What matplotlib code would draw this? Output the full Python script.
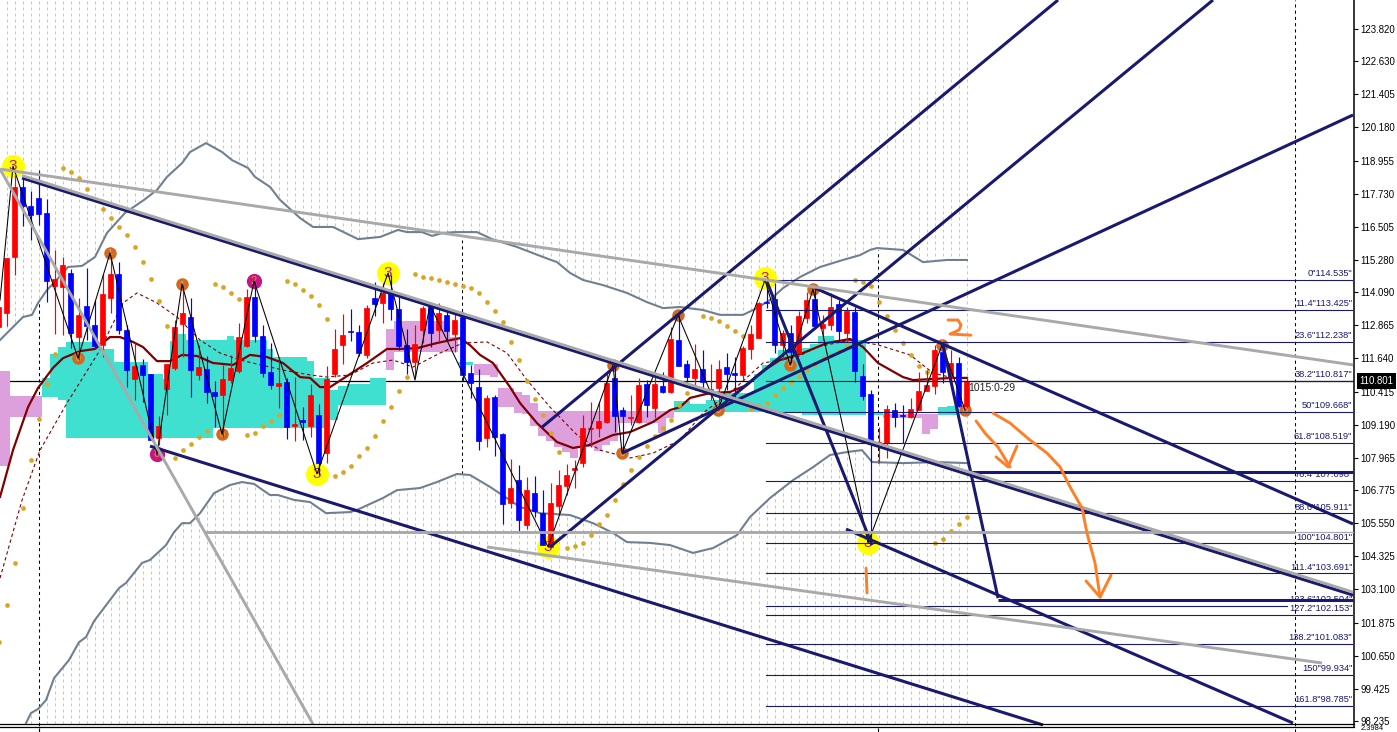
import numpy as np
import matplotlib
matplotlib.use("Agg")
import matplotlib.pyplot as plt

# ---------- candles (bar number is the list position) ----------
opens = [112.81,113.33,115.40,117.99,117.27,117.58,117.03,114.32,114.29,114.80,112.43,113.58,112.87,112.14,113.87,114.76,112.69,110.88,111.40,111.06,108.70,110.51,111.29,112.91,113.17,111.03,111.25,110.40,110.29,110.84,111.17,112.10,113.91,112.47,111.14,110.62,110.77,109.14,109.36,109.14,109.55,108.14,
 111.06,112.14,112.65,112.62,111.77,113.87,113.69,114.06,113.47,112.14,111.51,112.69,113.58,112.69,113.24,112.54,113.17,111.10,110.58,108.70,110.21,108.85,106.30,107.15,105.48,106.67,105.92,104.66,106.18,106.92,107.52,107.77,109.03,109.07,109.29,110.92,109.73,109.44,109.29,110.69,109.81,110.62,110.40,
 112.32,111.43,110.92,111.25,110.44,110.55,111.32,111.10,111.03,111.99,112.39,113.73,113.84,112.14,112.58,111.84,113.13,113.84,112.76,112.88,113.65,112.58,113.36,110.99,110.32,108.48,108.52,109.73,109.55,109.47,109.73,110.44,110.62,111.88,110.92,111.47,109.88]
highs = [113.55,115.34,118.42,118.30,117.83,118.61,117.52,115.65,115.38,114.95,113.86,114.98,113.80,114.76,115.40,115.19,112.87,112.20,111.61,111.06,109.51,111.43,113.06,114.35,113.86,112.14,111.73,110.80,111.40,111.77,112.94,114.19,114.48,112.87,112.20,111.70,110.90,110.97,109.86,110.69,109.96,111.36,
 112.73,113.28,113.47,112.88,113.61,114.45,114.42,114.72,113.92,112.73,112.88,113.58,113.74,113.68,113.43,113.28,113.37,111.40,111.25,110.29,110.27,108.88,107.92,107.70,107.27,107.29,106.78,107.02,107.52,107.74,107.88,109.55,110.04,110.02,111.09,111.40,109.83,110.29,110.90,110.84,110.97,111.13,112.79,
 113.24,111.58,112.17,111.95,111.43,111.58,111.83,111.70,112.10,112.88,113.74,114.54,114.42,112.69,112.88,113.39,114.11,114.23,113.24,114.05,113.80,113.55,113.55,111.43,110.47,109.12,109.92,109.98,109.92,110.17,111.15,111.21,112.14,112.14,111.95,111.68,110.97]
lows = [112.81,112.84,114.72,116.54,116.02,116.56,113.74,112.54,112.51,112.02,111.58,112.32,112.07,111.68,113.31,112.54,110.60,110.10,110.03,108.62,108.44,109.55,111.21,111.70,110.23,110.84,109.98,109.12,108.74,110.72,111.11,112.07,112.24,110.97,110.51,109.79,108.66,108.60,108.62,108.74,107.33,107.76,
 110.97,111.43,112.28,111.73,111.64,113.21,112.94,113.06,111.95,111.06,110.97,112.20,112.07,112.30,112.30,111.89,110.82,110.19,108.25,108.38,108.03,105.52,106.10,105.22,105.32,105.79,104.74,104.62,105.85,106.59,106.84,107.64,108.38,108.75,109.24,108.93,108.13,109.18,109.24,109.49,109.42,110.35,110.35,
 111.36,110.66,110.47,110.41,110.10,109.73,110.47,110.10,110.84,111.62,112.39,113.49,111.83,111.58,111.46,111.83,112.94,112.81,112.32,112.69,112.26,112.26,110.78,110.10,104.93,107.76,107.95,109.12,108.50,109.45,109.73,110.44,110.32,110.72,110.72,109.86,109.79]
closes = [113.55,115.34,117.99,117.27,116.95,116.98,114.51,114.56,115.09,112.58,113.24,112.84,112.10,114.02,114.76,112.69,111.21,111.36,111.03,108.62,109.14,111.43,112.80,113.32,111.21,111.32,110.40,110.25,110.88,111.29,112.43,113.91,112.47,111.10,110.66,110.73,109.10,109.22,109.29,110.29,107.76,110.88,
 111.99,112.51,112.62,111.84,113.50,113.65,114.06,113.47,112.10,111.51,112.17,113.50,112.58,113.32,112.65,113.06,111.03,110.73,108.59,110.18,108.73,106.26,106.85,105.67,106.78,106.00,104.74,106.30,106.96,107.33,107.59,109.07,109.07,109.33,110.73,109.51,109.51,109.47,110.66,109.92,110.69,110.40,112.36,
 111.36,110.95,111.25,110.77,110.51,111.25,111.06,111.03,112.03,112.54,113.69,113.69,112.14,112.58,111.88,113.21,113.80,112.84,112.91,113.54,112.65,113.39,111.17,110.25,108.48,108.55,109.77,109.47,109.51,109.77,110.44,110.66,111.95,111.14,111.47,109.88,110.80]

# ---------- Bollinger bands ----------
upper_x = [0.17,1.79,3.04,4.17,4.92,6.04,7.04,8.67,10.42,12.04,13.54,15.79,18.17,19.79,21.04,22.92,23.92,25.92,27.92,29.17,31.17,32.04,33.92,35.17,37.67,39.29,41.79,44.92,47.67,49.92,51.04,52.92,54.17,55.54,57.04,59.79,61.67,64.79,68.04,69.79,71.42,73.04,75.54,78.54,81.04,83.04,85.17,88.04,90.17,93.04,94.79,96.42,98.04,100.17,102.67,105.54,107.67,108.92,109.79,113.04,115.54,118.54,121.04]
upper_y = [112.32,112.80,113.17,113.25,113.69,114.17,114.47,115.02,115.06,115.39,116.28,117.02,117.50,117.87,118.35,118.86,119.27,119.60,119.27,118.97,118.68,118.35,117.98,117.50,116.83,116.50,116.50,116.05,116.13,116.39,116.31,116.31,116.17,116.28,116.31,116.31,116.05,115.76,115.39,115.20,114.80,114.54,114.35,114.06,113.72,113.50,113.54,113.43,113.25,113.25,113.50,113.80,114.24,114.65,115.02,115.28,115.46,115.65,115.72,115.65,115.20,115.28,115.28]
lower_x = [3.42,4.04,4.92,5.92,6.92,8.79,10.04,10.92,11.92,13.92,15.04,15.92,17.92,18.92,20.92,21.92,22.92,23.92,25.17,26.92,28.92,30.42,31.92,33.92,34.92,36.92,38.92,40.92,43.92,44.79,48.04,49.79,52.67,54.79,57.29,58.92,61.42,65.17,67.67,71.42,74.29,76.79,78.54,81.42,83.92,86.79,89.29,92.29,93.92,96.42,99.29,101.79,103.92,106.04,107.92,109.17,113.04,117.29,121.04]
lower_y = [98.16,98.53,98.68,99.01,99.82,100.49,101.15,101.34,101.93,102.71,103.15,103.34,104.08,104.19,104.74,105.22,105.55,105.55,105.92,106.66,106.96,107.07,107.00,106.59,106.59,106.41,106.33,105.92,105.96,106.04,106.48,106.77,106.85,107.07,107.37,107.33,106.89,106.15,105.92,105.85,105.55,105.19,104.85,104.82,104.74,104.45,104.63,105.11,105.78,106.48,107.14,107.62,108.07,108.18,108.25,107.81,107.77,107.81,107.77]

# ---------- moving averages ----------
ma_x = [0.17,1.79,3.67,4.92,6.79,8.04,10.17,12.04,13.92,15.17,16.79,18.04,19.79,21.42,22.92,24.79,26.79,29.29,31.42,33.54,35.54,37.67,38.92,40.17,41.42,43.92,46.04,48.54,50.17,52.29,54.79,57.67,58.92,60.17,61.79,63.92,65.17,67.29,69.79,71.79,73.92,76.79,78.92,81.79,83.92,85.17,86.42,88.92,91.42,93.54,95.17,97.67,100.54,103.54,106.42,108.04,109.92,113.04,114.29,119.29,121.04]
ma_y = [106.52,108.25,109.84,110.55,111.29,111.65,111.91,111.99,112.43,112.43,112.25,112.06,111.54,111.54,111.77,111.73,111.47,111.40,111.77,111.69,111.47,110.95,110.92,110.58,110.58,111.06,111.47,111.99,111.99,112.02,112.21,112.39,112.13,111.77,111.47,110.58,109.99,109.25,108.55,108.33,108.44,108.81,108.92,109.29,109.73,109.84,110.18,110.36,110.40,110.66,111.10,111.58,111.84,112.21,112.36,112.06,111.47,110.95,110.84,110.92,110.92]
slow_x = [0.17,2.92,5.17,8.54,12.67,15.54,17.29,19.79,22.29,25.17,27.67,30.17,35.54,38.92,41.04,43.92,46.79,49.29,51.79,55.17,58.04,61.04,63.54,66.04,68.92,72.29,75.17,78.92,81.79,85.17,88.04,91.79,95.54,99.79,102.29,106.42,109.92,113.92,116.79,119.29]
slow_y = [103.52,106.40,108.25,109.99,111.95,113.69,114.06,113.69,113.17,112.32,111.84,111.58,111.21,111.03,110.95,111.03,111.47,111.58,111.32,111.84,112.21,112.25,111.84,110.84,109.84,108.81,108.25,107.96,108.14,108.62,109.62,110.47,111.47,111.69,112.06,112.32,112.14,111.77,111.10,110.92]

# ---------- parabolic SAR ----------
sar_bars = [0,1,2,3,4,5,6,7,8,9,10,11,13,14,15,16,17,18,19,20,21,22,23,24,25,26,27,28,29,30,31,32,33,34,35,36,37,38,39,40,41,
 42,43,44,45,46,47,48,49,50,51,52,53,54,55,56,57,58,59,60,61,62,63,64,65,66,67,68,69,70,71,72,73,74,75,76,77,78,79,80,81,82,83,84,85,86,
 88,89,90,91,92,93,94,95,96,97,98,99,100,101,102,103,104,105,106,107,108,109,110,111,112,113,114,115,116,117,118,119,120,121]
sar_vals = [101.16,102.52,104.07,106.11,107.90,109.40,110.69,111.80,118.68,118.53,118.31,117.90,117.16,116.83,116.50,116.20,115.76,115.20,114.58,113.76,112.84,107.96,108.25,108.48,108.73,108.96,114.39,114.28,114.06,113.84,108.81,108.88,109.14,109.33,109.55,114.50,114.39,114.17,113.95,113.62,113.10,
 107.29,107.44,107.66,108.03,108.33,108.77,109.33,109.84,110.43,110.95,114.76,114.65,114.61,114.54,114.46,114.39,114.32,114.24,114.06,113.72,113.39,112.99,112.25,111.58,110.80,110.14,109.55,108.88,108.18,104.63,104.70,104.82,105.11,105.52,105.85,106.41,107.00,107.51,107.99,108.40,108.77,109.07,109.36,109.92,110.36,
 113.21,113.13,113.02,112.84,112.65,112.47,109.77,109.88,109.99,110.29,110.55,110.77,110.99,111.21,111.43,111.65,111.77,111.91,112.10,114.54,114.46,114.32,113.72,113.21,112.69,112.21,111.77,111.36,111.14,104.82,104.96,105.26,105.52,105.78]

# ---------- cloud blocks ----------
teal_start = [5.42,6.42,7.42,8.42,12.67,14.42,18.67,20.54,21.42,22.42,23.42,26.79,28.54,29.42,33.54,34.29,38.54,39.42,41.42,42.42,43.54,46.42,57.42,84.42,86.42,88.42,90.54,93.42,94.42,95.42,96.42,97.42,100.42,101.42,102.42,104.42,109.29,117.42,118.54]
teal_end   = [6.42,7.42,8.42,12.67,14.42,18.67,20.54,21.42,22.42,23.42,26.79,28.54,29.42,33.54,34.29,38.54,39.42,41.42,42.42,43.54,46.42,48.42,59.29,86.42,88.42,90.54,93.42,94.42,95.42,96.42,97.42,100.42,101.42,102.42,104.42,108.42,110.54,118.54,120.04]
teal_top   = [110.92,111.80,112.06,112.25,111.99,111.51,111.06,110.88,112.28,112.54,112.32,112.32,112.47,112.32,111.99,111.69,111.54,110.92,110.48,110.62,110.69,110.92,111.51,110.07,109.96,110.10,110.36,110.36,111.06,111.40,111.65,111.95,112.02,112.17,112.47,112.32,109.62,109.84,109.88]
teal_low   = [110.21,110.21,110.10,108.70,108.70,108.70,108.70,108.70,108.70,108.70,108.70,109.07,109.07,109.07,109.07,109.07,109.07,109.07,109.36,109.92,109.92,109.92,111.40,109.66,109.66,109.66,109.66,109.66,109.66,109.66,109.66,109.66,109.55,109.55,109.55,109.55,109.55,109.55,109.55]
plum_start = [-0.5,1.42,48.42,49.42,56.42,59.42,61.42,62.42,64.42,65.42,66.42,67.42,68.42,69.42,70.42,71.42,72.42,74.42,75.42,76.42,77.42,82.42,83.42,110.54,115.42,116.42]
plum_end   = [1.42,5.42,49.42,56.42,57.42,61.42,62.42,64.42,65.42,66.42,67.42,68.42,69.42,70.42,71.42,72.42,74.42,75.42,76.42,77.42,82.42,83.42,84.42,115.42,116.42,117.42]
plum_top   = [111.17,110.25,112.73,113.02,112.43,111.43,111.43,110.55,110.40,110.29,110.00,109.70,109.70,109.70,109.70,109.70,109.70,109.70,109.70,109.70,109.70,109.70,109.70,109.59,109.59,109.59]
plum_low   = [107.66,109.47,111.21,111.88,111.88,111.03,110.95,109.84,109.62,109.59,109.14,108.77,108.59,108.36,108.18,107.96,108.36,108.22,108.44,108.59,109.25,108.88,109.44,109.44,108.85,109.03]

# ---------- zigzag and swing markers ----------
zig_x = [0.17,1.79,9.92,13.92,19.79,22.92,27.92,31.92,39.79,48.67,52.04,53.92,57.92,68.67,76.79,77.92,84.92,89.92,95.79,98.92,101.79,108.67,117.92,120.79]
zig_y = [113.80,118.75,111.65,115.54,108.11,114.39,108.84,114.50,107.37,114.80,110.84,113.62,111.14,104.67,111.40,108.14,113.24,109.73,114.54,111.40,114.21,104.82,112.14,109.73]
yellow_x = [1.79,39.79,48.67,95.79,68.67,108.67]
yellow_y = [118.75,107.37,114.80,114.61,104.67,104.82]
magenta_x = [19.79,31.92]
magenta_y = [108.11,114.50]
magenta_txt = ["8","2"]
orange_x = [9.92,13.92,22.92,27.92,76.79,77.92,84.92,89.92,98.92,101.79,117.92,120.79]
orange_y = [111.65,115.54,114.39,108.84,111.40,108.14,113.24,109.73,111.40,114.21,112.14,109.73]
orange_txt = ["0","1","1","0","1","0","1","0","0","1","1","0"]

# ---------- trend lines: x1, price1, x2, price2 ----------
navy_lines = [(2.92,118.31,169.30,102.89),(18.92,108.40,130.54,98.09),(67.92,109.10,132.42,124.89),
              (68.92,104.67,151.79,124.89),(77.92,108.14,169.29,120.64),(96.04,114.47,109.17,104.74),
              (102.04,114.24,169.29,105.52),(105.92,105.33,161.79,98.16),(118.04,112.14,124.92,102.78),
              (124.92,102.71,169.29,102.71),(121.42,107.44,169.29,107.44)]
gray_lines = [(0.17,118.64,169.29,111.40),(0.17,118.64,39.29,98.12),(2.92,118.40,169.29,103.00),
              (25.79,105.22,162.04,105.22),(61.04,104.67,165.42,100.38)]

# ---------- Fibonacci levels ----------
fib_pct = ["0","11.4","23.6","38.2","50","61.8","76.4","88.6","100","111.4","123.6","127.2","138.2","150","161.8"]
fib_price = [114.535,113.425,112.238,110.817,109.668,108.519,107.098,105.911,104.801,103.691,102.504,102.153,101.083,99.934,98.785]
fib_end = [169.2,169.2,169.2,169.2,169.2,169.2,169.2,169.2,169.2,169.2,161.0,169.2,169.2,169.2,169.2]

# ---------- freehand orange marks ----------
two_x = [118.67,119.92,120.29,120.04,118.92,121.54]
two_y = [113.06,113.06,112.87,112.69,112.54,112.50]
one_x = [108.42,108.54]
one_y = [103.89,102.97]
arrow1_x = [122.17,123.29,124.92,126.42]
arrow1_y = [109.33,108.88,108.36,107.63]
head1_x = [124.67,126.17,127.29]
head1_y = [108.00,107.63,108.40]
arrow2_x = [124.29,126.42,128.92,131.04,132.67,133.92,135.42,136.04,137.04,137.67]
arrow2_y = [109.62,109.25,108.62,108.14,107.63,106.89,106.11,105.18,104.08,102.82]
head2_x = [135.92,137.67,139.04]
head2_y = [103.41,102.82,103.63]

# ---------- axis ----------
price_ticks = [123.82,122.63,121.405,120.18,118.955,117.73,116.505,115.28,114.09,112.865,111.64,110.415,109.19,107.965,106.775,105.55,104.325,103.1,101.875,100.65,99.425,98.235]
last_price = 110.801
separators = [(5.04,97.83,113.69),(57.92,107.37,116.0),(109.92,107.77,115.65),(162.04,97.83,124.89)]
day_ticks = [5.04,109.92]

NAVY = "#191970"; GRAY = "#A9A9A9"; ORANGE = "#FF7F27"; SAR = "#DAA520"
plt.rcParams["font.family"] = ["Liberation Sans", "DejaVu Sans"]
fig = plt.figure(figsize=(13.97, 7.32), dpi=100, facecolor="white")
ax = fig.add_axes([0, 0, 1353.5/1397, 1])
ax.set_xlim(0.166, 169.35)
ax.set_ylim(97.83, 124.89)

# hatching outside the bands, white inside
n = len(opens)
ax.vlines(np.arange(1, n), 98.12, 124.85, color="#C6C6C6", lw=0.72, linestyles=(0, (3, 3)), zorder=1)
poly_x = upper_x + lower_x[::-1] + [lower_x[0], upper_x[0]]
poly_y = upper_y + lower_y[::-1] + [97.83, 97.83]
ax.fill(poly_x, poly_y, color="white", lw=0, zorder=2)
for x, y0, y1 in separators:
    ax.vlines(x, y0, y1, color="black", lw=0.75, linestyles=(0, (3, 3)), zorder=3)
ax.plot([1.4, 169.35], [last_price]*2, color="black", lw=0.9, zorder=3)

ax.bar(teal_start, np.array(teal_top)-np.array(teal_low), width=np.array(teal_end)-np.array(teal_start),
       bottom=teal_low, align="edge", color="#40E0D0", lw=0, zorder=4)
ax.bar(plum_start, np.array(plum_top)-np.array(plum_low), width=np.array(plum_end)-np.array(plum_start),
       bottom=plum_low, align="edge", color="#DDA0DD", lw=0, zorder=4)

ax.plot(upper_x, upper_y, color="#708090", lw=1.5, zorder=5)
ax.plot(lower_x, lower_y, color="#708090", lw=1.5, zorder=5)
ax.plot(slow_x, slow_y, color="#800000", lw=0.8, ls=(0, (3, 2.5)), zorder=5)
ax.plot(ma_x, ma_y, color="#800000", lw=1.6, zorder=6)
ax.plot(sar_bars, sar_vals, ls="none", marker="o", ms=3.4, color=SAR, mew=0, zorder=6)

ax.plot(yellow_x, yellow_y, ls="none", marker="o", ms=16.5, color="#FFFF00", mew=0, zorder=7)
ax.plot(magenta_x, magenta_y, ls="none", marker="o", ms=11, color="#C71585", mew=0, zorder=7)
ax.plot(orange_x, orange_y, ls="none", marker="o", ms=9, color="#D2691E", mew=0, zorder=7)
for x, y in zip(yellow_x, yellow_y):
    ax.text(x, y, "3", color="#C71585", fontsize=11, ha="center", va="center", zorder=7.5)
for x, y, t in zip(magenta_x, magenta_y, magenta_txt):
    ax.text(x, y, t, color="#E88A2E", fontsize=8, ha="center", va="center", zorder=7.5)
for x, y, t in zip(orange_x, orange_y, orange_txt):
    ax.text(x, y, t, color="#E8B070", fontsize=6.5, ha="center", va="center", zorder=7.5)

ax.text(121.17, 110.55, "1015:0-29", color="#222222", fontsize=7.5, ha="left", va="center", zorder=7.5)

o, h, l, c = map(np.array, (opens, highs, lows, closes))
idx = np.arange(n)
col = np.where(c >= o, "#FF0000", "#0000FF")
ax.vlines(idx, l, h, colors=col, lw=0.85, zorder=8)
ax.bar(idx, np.abs(c-o), bottom=np.minimum(o, c), width=0.56, color=col, edgecolor=col, lw=0.5, zorder=8)
ax.plot(zig_x, zig_y, color="black", lw=0.75, zorder=9)

for x1, y1, x2, y2 in navy_lines:
    ax.plot([x1, x2], [y1, y2], color=NAVY, lw=2.2, zorder=10, solid_capstyle="butt")
for x1, y1, x2, y2 in gray_lines:
    ax.plot([x1, x2], [y1, y2], color=GRAY, lw=2.1, zorder=10.2, solid_capstyle="butt")
ax.plot([162.04, 169.29], [105.22, 105.22], color=GRAY, lw=0.9, zorder=10)

for pct, pr, xe in zip(fib_pct, fib_price, fib_end):
    ax.plot([95.92, xe], [pr, pr], color=NAVY, lw=0.8, zorder=9.5)
    ax.text(169.2, pr + 0.07, f'{pct}"{pr:.3f}"', color=NAVY, fontsize=6.7, ha="right", va="bottom", zorder=9.6)

for xs, ys in ((two_x, two_y), (one_x, one_y), (arrow1_x, arrow1_y), (head1_x, head1_y),
               (arrow2_x, arrow2_y), (head2_x, head2_y)):
    ax.plot(xs, ys, color=ORANGE, lw=2.1, zorder=12, solid_capstyle="round", solid_joinstyle="round")

ax.plot([0.166, 169.35], [98.12, 98.12], color="black", lw=0.9, zorder=13, clip_on=False)
ax.plot([0.166, 169.35], [98.03, 98.03], color="black", lw=0.9, zorder=13, clip_on=False)

for s in ("left", "top", "bottom"):
    ax.spines[s].set_visible(False)
ax.spines["right"].set_bounds(98.03, 124.89)
ax.spines["right"].set_linewidth(1.1)
ax.yaxis.tick_right()
ax.set_yticks(price_ticks)
ax.set_yticklabels([f"{t:.3f}" for t in price_ticks], fontsize=6.9)
ax.tick_params(axis="y", length=2.6, width=0.8, pad=2.2)
ax.set_xticks(day_ticks)
ax.set_xticklabels([])
ax.tick_params(axis="x", direction="in", length=3, width=0.8)

ax.text(1.0045, last_price, f"{last_price:.3f}", transform=ax.get_yaxis_transform(), color="white",
        fontsize=6.9, ha="left", va="center", zorder=20, clip_on=False,
        bbox=dict(boxstyle="square,pad=0.28", fc="black", ec="black", lw=0))
ax.text(1.005, 97.84, "2.3984", transform=ax.get_yaxis_transform(), color="black",
        fontsize=5.4, ha="left", va="bottom", clip_on=False)

fig.savefig("out.png", dpi=100)
